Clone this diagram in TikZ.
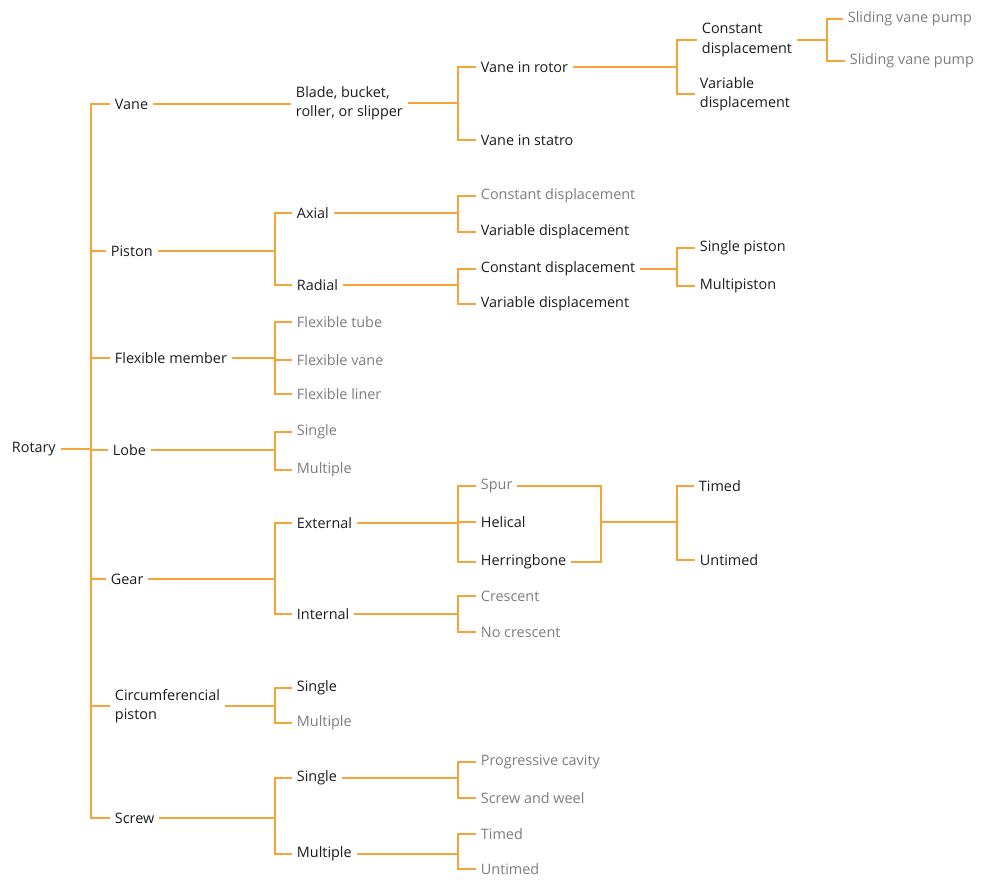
\documentclass[tikz,border=0pt]{standalone}
\usepackage{fontspec}
\setmainfont{Open Sans}
\definecolor{wirecol}{RGB}{247,163,55}
\definecolor{ink}{RGB}{28,28,28}
\definecolor{muted}{RGB}{125,125,125}
\begin{document}
\begin{tikzpicture}[x=0.75pt,y=-0.75pt,
  lbl/.style={anchor=west,inner sep=3.5pt,align=left,text=ink,
    font=\fontsize{10.8}{14.3}\selectfont},
  dim/.style={lbl,text=muted},
  wire/.style={draw=wirecol,line width=1.3pt}]
\useasboundingbox (0,0) rectangle (990,880);

% bracket columns
\coordinate (T)  at (91,0);
\coordinate (B1) at (275,0);
\coordinate (B2) at (458,0);
\coordinate (B3) at (677,0);
\coordinate (B4) at (827,0);

% level 0 and 1
\node[lbl] (rotary) at (7,449) {Rotary};
\node[lbl] (vane)   at (110,104) {Vane};
\node[lbl] (piston) at (106,251) {Piston};
\node[lbl] (flex)   at (110,358) {Flexible member};
\node[lbl] (lobe)   at (108,450) {Lobe};
\node[lbl] (gear)   at (106,579) {Gear};
\node[lbl] (circ)   at (110,706) {Circumferencial\\piston};
\node[lbl] (screw)  at (110,818) {Screw};

% vane branch
\node[lbl] (blade)  at (291,103) {Blade, bucket,\\roller, or slipper};
\node[lbl] (rotor)  at (476,67)  {Vane in rotor};
\node[lbl] (stator) at (476,140) {Vane in statro};
\node[lbl] (vcd)    at (697,40)  {Constant\\displacement};
\node[lbl] (vvd)    at (695,94)  {Variable\\displacement};
\node[dim] (svpa)   at (843,19)  {Sliding vane pump};
\node[dim] (svpb)   at (845,61)  {Sliding vane pump};

% piston branch
\node[lbl] (axial)  at (292,213) {Axial};
\node[lbl] (radial) at (292,285) {Radial};
\node[dim] (acd)    at (476,196) {Constant displacement};
\node[lbl] (avd)    at (476,232) {Variable displacement};
\node[lbl] (rcd)    at (476,269) {Constant displacement};
\node[lbl] (rvd)    at (476,304) {Variable displacement};
\node[lbl] (sp)     at (695,248) {Single piston};
\node[lbl] (mp)     at (695,286) {Multipiston};

% flexible member branch
\node[dim] (ftube)  at (292,322) {Flexible tube};
\node[dim] (fvane)  at (292,360) {Flexible vane};
\node[dim] (fliner) at (292,394) {Flexible liner};

% lobe branch
\node[dim] (lsing)  at (292,432) {Single};
\node[dim] (lmult)  at (292,470) {Multiple};

% gear branch
\node[lbl] (ext)    at (292,523) {External};
\node[lbl] (int)    at (292,614) {Internal};
\node[dim] (spur)   at (476,486) {Spur};
\node[lbl] (hel)    at (476,522) {Helical};
\node[lbl] (herr)   at (476,562) {Herringbone};
\node[lbl] (gtimed) at (694,486) {Timed};
\node[lbl] (guntim) at (695,560) {Untimed};
\node[dim] (cres)   at (476,596) {Crescent};
\node[dim] (nocres) at (476,632) {No crescent};
\coordinate (gm) at (601,522);

% circumferencial piston branch
\node[lbl] (csing)  at (292,688) {Single};
\node[dim] (cmult)  at (292,723) {Multiple};

% screw branch
\node[lbl] (ssing)  at (292,778) {Single};
\node[lbl] (smult)  at (292,854) {Multiple};
\node[dim] (prog)   at (476,762) {Progressive cavity};
\node[dim] (weel)   at (476,798) {Screw and weel};
\node[dim] (stimed) at (476,834) {Timed};
\node[dim] (suntim) at (476,869) {Untimed};

% connectors
\draw[wire] (rotary.east) -- (rotary.east -| T);
\foreach \c in {vane,piston,flex,lobe,gear,circ,screw}
  \draw[wire] (rotary.east -| T) |- (\c.west);

\draw[wire] (vane.east) -- (blade.west |- vane.east);
\draw[wire] (blade.east) -- (blade.east -| B2);
\foreach \c in {rotor,stator} \draw[wire] (blade.east -| B2) |- (\c.west);
\draw[wire] (rotor.east) -- (rotor.east -| B3);
\foreach \c in {vcd,vvd} \draw[wire] (rotor.east -| B3) |- (\c.west);
\draw[wire] (vcd.east) -- (vcd.east -| B4);
\foreach \c in {svpa,svpb} \draw[wire] (vcd.east -| B4) |- (\c.west);

\draw[wire] (piston.east) -- (piston.east -| B1);
\foreach \c in {axial,radial} \draw[wire] (piston.east -| B1) |- (\c.west);
\draw[wire] (axial.east) -- (axial.east -| B2);
\foreach \c in {acd,avd} \draw[wire] (axial.east -| B2) |- (\c.west);
\draw[wire] (radial.east) -- (radial.east -| B2);
\foreach \c in {rcd,rvd} \draw[wire] (radial.east -| B2) |- (\c.west);
\draw[wire] (rcd.east) -- (rcd.east -| B3);
\foreach \c in {sp,mp} \draw[wire] (rcd.east -| B3) |- (\c.west);

\draw[wire] (flex.east) -- (flex.east -| B1);
\foreach \c in {ftube,fvane,fliner} \draw[wire] (flex.east -| B1) |- (\c.west);

\draw[wire] (lobe.east) -- (lobe.east -| B1);
\foreach \c in {lsing,lmult} \draw[wire] (lobe.east -| B1) |- (\c.west);

\draw[wire] (gear.east) -- (gear.east -| B1);
\foreach \c in {ext,int} \draw[wire] (gear.east -| B1) |- (\c.west);
\draw[wire] (ext.east) -- (ext.east -| B2);
\foreach \c in {spur,hel,herr} \draw[wire] (ext.east -| B2) |- (\c.west);
\draw[wire] (spur.east) -| (gm);
\draw[wire] (herr.east) -| (gm);
\draw[wire] (gm) -- (gm -| B3);
\foreach \c in {gtimed,guntim} \draw[wire] (gm -| B3) |- (\c.west);
\draw[wire] (int.east) -- (int.east -| B2);
\foreach \c in {cres,nocres} \draw[wire] (int.east -| B2) |- (\c.west);

\draw[wire] (circ.east) -- (circ.east -| B1);
\foreach \c in {csing,cmult} \draw[wire] (circ.east -| B1) |- (\c.west);

\draw[wire] (screw.east) -- (screw.east -| B1);
\foreach \c in {ssing,smult} \draw[wire] (screw.east -| B1) |- (\c.west);
\draw[wire] (ssing.east) -- (ssing.east -| B2);
\foreach \c in {prog,weel} \draw[wire] (ssing.east -| B2) |- (\c.west);
\draw[wire] (smult.east) -- (smult.east -| B2);
\foreach \c in {stimed,suntim} \draw[wire] (smult.east -| B2) |- (\c.west);
\end{tikzpicture}
\end{document}
